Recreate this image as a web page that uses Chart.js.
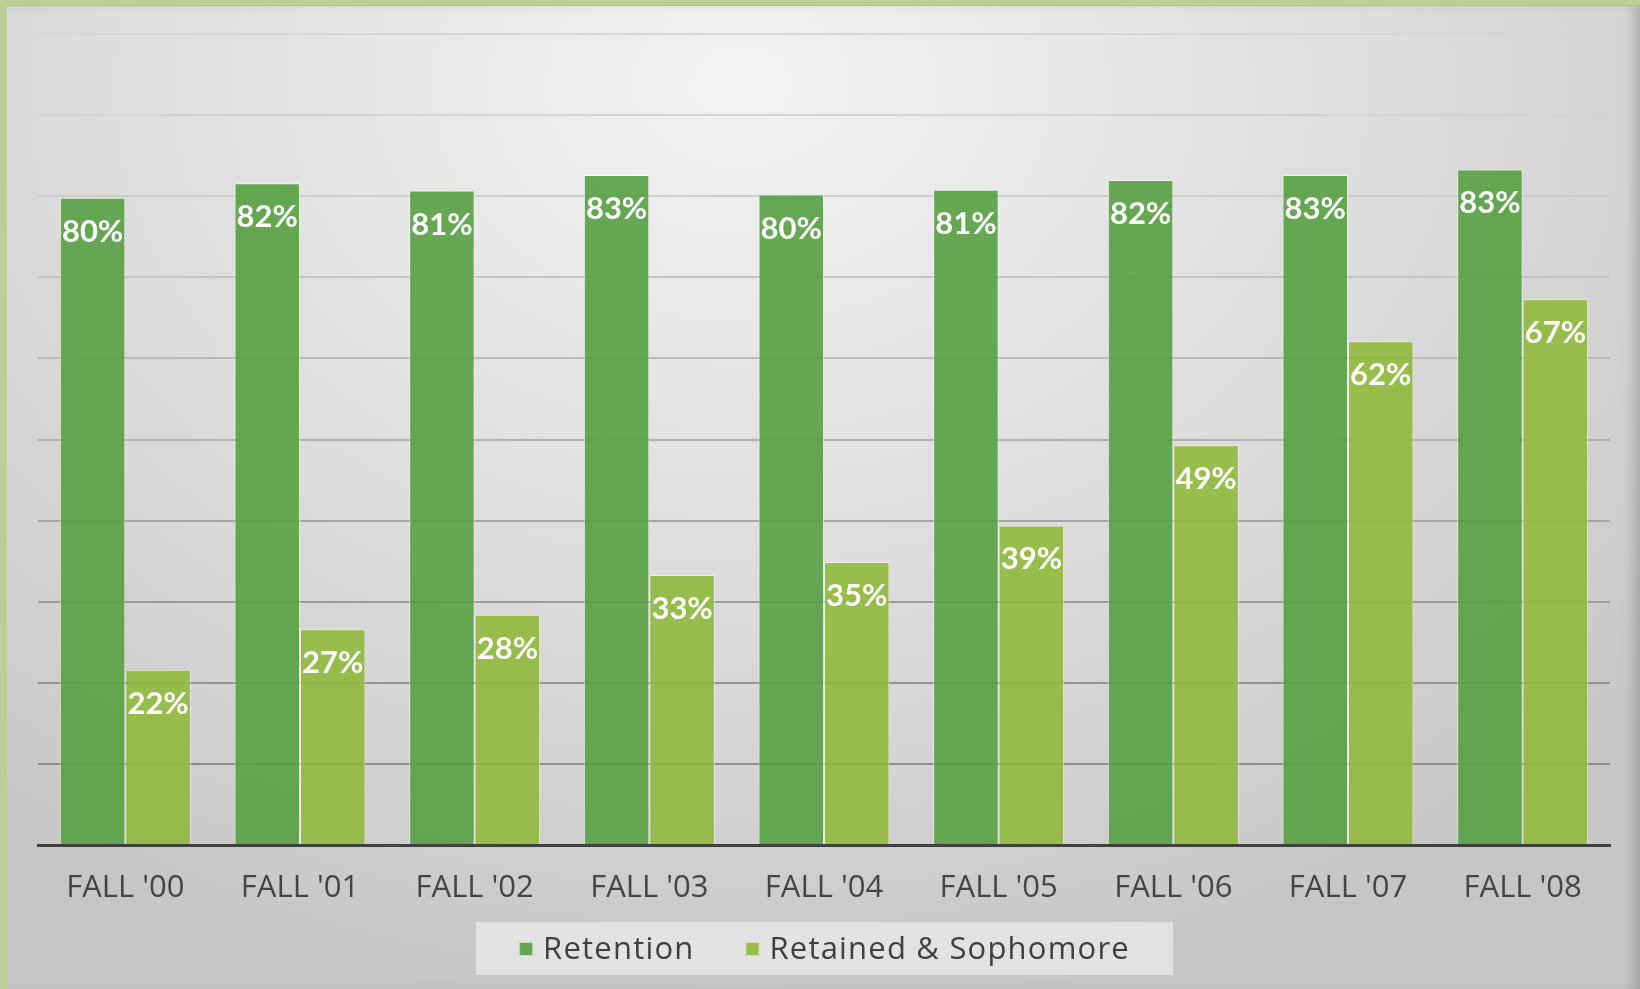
<!DOCTYPE html>
<html>
<head>
<meta charset="utf-8">
<script src="https://cdn.jsdelivr.net/npm/chart.js@4/dist/chart.umd.min.js"></script>
<style>
  html, body { margin: 0; padding: 0; }
  body { width: 1640px; height: 989px; background: #bccf95; position: relative; overflow: hidden; }
  #panel {
    position: absolute; left: 7px; top: 5px; right: 0; bottom: 0;
    border-top: 1px solid #b4b4b4;
    background: radial-gradient(ellipse 75% 95% at 45% 8%, #f3f3f3 0%, #e2e2e2 40%, #d3d3d3 75%, #c6c6c6 100%);
    box-shadow: inset -10px 0 14px -6px rgba(0,0,0,0.22);
  }
  #wrap { position: absolute; left: 0; top: 0; width: 1640px; height: 989px; }
</style>
</head>
<body>
<div id="panel"></div>
<div id="wrap"><canvas id="chart" width="1640" height="989"></canvas></div>
<script>
var categories = ["FALL '00", "FALL '01", "FALL '02", "FALL '03", "FALL '04", "FALL '05", "FALL '06", "FALL '07", "FALL '08"];
var retention = [79.8, 81.6, 80.7, 82.6, 80.2, 80.8, 82.0, 82.6, 83.3];
var sophomore = [21.6, 26.6, 28.4, 33.3, 34.9, 39.4, 49.3, 62.1, 67.3];
var seriesNames = ['Retention', 'Retained & Sophomore'];

var textFont = '"Open Sans", sans-serif';
var legendSwatch = ['#64a552', '#97bc4b'];

// white % labels just inside the top of each bar
var barLabels = {
  id: 'barLabels',
  afterDatasetsDraw: function(chart) {
    var ctx = chart.ctx;
    ctx.save();
    ctx.fillStyle = '#ffffff';
    ctx.font = 'bold 31px Lato, sans-serif';
    ctx.textAlign = 'center';
    ctx.textBaseline = 'middle';
    chart.data.datasets.forEach(function(ds, i) {
      chart.getDatasetMeta(i).data.forEach(function(bar, j) {
        ctx.fillText(Math.round(ds.data[j]) + '%', bar.x, bar.y + 34);
      });
    });
    ctx.restore();
  }
};

// legend in a light box under the axis
var boxLegend = {
  id: 'boxLegend',
  afterDraw: function(chart) {
    var ctx = chart.ctx;
    ctx.save();
    ctx.fillStyle = 'rgba(235,235,235,0.75)';
    ctx.fillRect(476, 922, 697, 53);
    ctx.font = '31px ' + textFont;
    ctx.letterSpacing = '1.2px';
    ctx.textBaseline = 'middle';
    var w0 = ctx.measureText(seriesNames[0]).width;
    var w1 = ctx.measureText(seriesNames[1]).width;
    var total = 14 + 10 + w0 + 51 + 14 + 10 + w1;
    var x = 824.5 - total / 2;
    var y = 949;
    for (var i = 0; i < 2; i++) {
      ctx.fillStyle = legendSwatch[i];
      ctx.fillRect(x, y - 7, 14, 14);
      ctx.strokeStyle = 'rgba(255,255,255,0.6)';
      ctx.lineWidth = 1;
      ctx.strokeRect(x + 0.5, y - 6.5, 13, 13);
      ctx.fillStyle = '#404040';
      ctx.fillText(seriesNames[i], x + 24, y + 1);
      x += 24 + (i === 0 ? w0 : w1) + 51;
    }
    ctx.restore();
  }
};

var gridShades = ['rgba(0,0,0,0)', '#8e8e8e', '#949494', '#9c9c9c', '#a6a6a6', '#b0b0b0', '#bababa', '#c4c4c4', '#cdcdcd', '#d3d3d3', '#d6d6d6'];

new Chart(document.getElementById('chart'), {
  type: 'bar',
  data: {
    labels: categories,
    datasets: [{
      label: seriesNames[0],
      data: retention,
      backgroundColor: 'rgba(87,160,67,0.9)',
      borderColor: 'rgba(255,255,255,0.55)',
      borderWidth: 1,
      barPercentage: 1,
      categoryPercentage: 0.75
    }, {
      label: seriesNames[1],
      data: sophomore,
      backgroundColor: 'rgba(144,185,60,0.9)',
      borderColor: 'rgba(255,255,255,0.55)',
      borderWidth: 1,
      barPercentage: 1,
      categoryPercentage: 0.75
    }]
  },
  options: {
    responsive: false,
    animation: false,
    layout: { padding: { left: 38, right: 30, top: 34, bottom: 0 } },
    plugins: {
      legend: { display: false },
      tooltip: { enabled: false }
    },
    scales: {
      x: {
        grid: { display: false },
        border: { display: true, color: '#404040', width: 3 },
        ticks: { color: '#454545', font: { family: textFont, size: 31 }, padding: 17, maxRotation: 0 },
        afterFit: function(s) { s.height = 144; }
      },
      y: {
        min: 0,
        max: 100,
        ticks: { stepSize: 10, display: false },
        border: { display: false },
        grid: {
          drawTicks: false,
          lineWidth: 2,
          color: function(c) { return gridShades[c.index] || '#d6d6d6'; }
        },
        afterFit: function(s) { s.width = 0; }
      }
    }
  },
  plugins: [barLabels, boxLegend]
});
</script>
</body>
</html>
